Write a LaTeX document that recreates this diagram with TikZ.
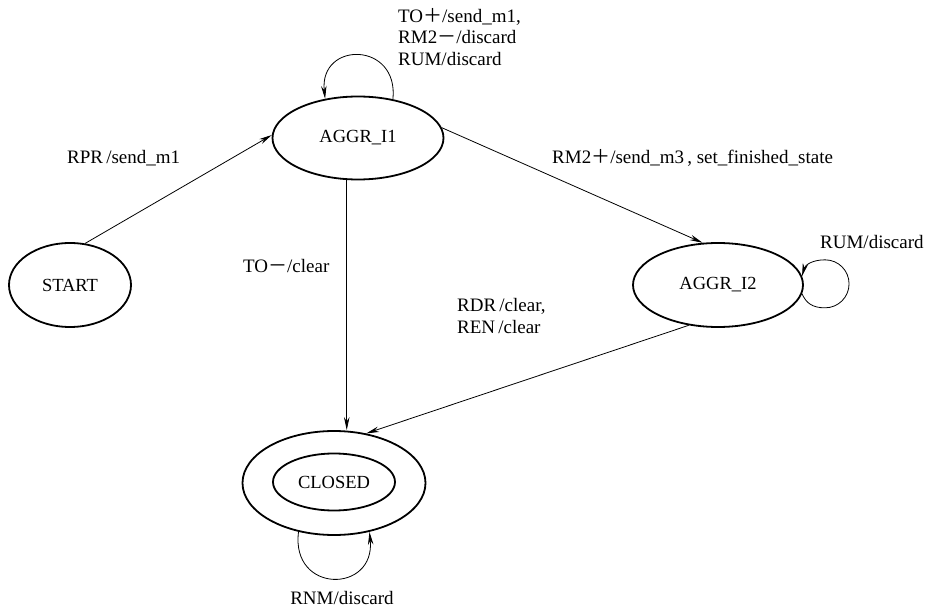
\documentclass[tikz,border=0pt]{standalone}
\usepackage{fontspec}
\setmainfont{Liberation Serif}
\newfontfamily\cjkfont{Noto Sans CJK SC}
\newcommand{\fwplus}{{\cjkfont ＋}}
\newcommand{\fwminus}{{\cjkfont －}}
\usetikzlibrary{shapes.geometric,arrows.meta}
\begin{document}
\begin{tikzpicture}[x=1pt,y=-1pt,
  state/.style={draw,ellipse,line width=1.8pt,inner sep=0pt,font=\rmfamily\fontsize{18.5}{20}\selectfont},
  lbl/.style={inner sep=0pt,font=\rmfamily\fontsize{19}{21.7}\selectfont,align=left},
  conn/.style={line width=0.8pt,-{Stealth[length=13pt,width=5.5pt]}}]
\useasboundingbox (0,0) rectangle (931,609);
% states
\node[state,minimum width=122pt,minimum height=84pt] (start) at (70,285) {START};
\node[state,minimum width=171pt,minimum height=83pt] (a1) at (358,138) {AGGR\_I1};
\node[state,minimum width=170pt,minimum height=84pt] (a2) at (718,285) {AGGR\_I2};
\node[state,minimum width=183pt,minimum height=104pt] (closed) at (334,483) {};
\node[state,minimum width=122pt,minimum height=57pt] (closedin) at (334,482) {CLOSED};
% transitions
\draw[conn] (start.70) -- (a1.178);
\draw[conn] (a1.7) -- (a2.110);
\draw[conn] (a1.255) -- (a1.255 |- closed.north);
\draw[conn] (a2.234) -- (closed.57);
\draw[conn] (a1.48) .. controls +(6,-58) and +(-6,-58) .. (a1.130);
\draw[conn] (a2.-6) .. controls +(4,9) and +(-13,0) .. ++(23,14)
  .. controls +(13.3,0) and +(0,13.3) .. ++(24,-24)
  .. controls +(0,-13.3) and +(13.3,0) .. ++(-24,-24)
  .. controls +(-13,0) and +(3,-11) .. (a2.6);
\draw[conn] (closed.234) .. controls +(-8,62) and +(6,62) .. (closed.306);
% labels
\node[lbl,anchor=west] (l1) at (398,37) {TO\fwplus/send\_m1,\\RM2\fwminus/discard\\RUM/discard};
\node[lbl,anchor=west] (l2) at (67,158) {RPR\,/send\_m1};
\node[lbl,anchor=west] (l3) at (243,266) {TO\fwminus/clear};
\node[lbl,anchor=west] (l4) at (552,158) {RM2\fwplus/send\_m3\,, set\_finished\_state};
\node[lbl,anchor=west] (l5) at (820,242) {RUM/discard};
\node[lbl,anchor=west] (l6) at (457,316) {RDR\,/clear,\\REN\,/clear};
\node[lbl] (l7) at (342,598) {RNM/discard};
\end{tikzpicture}
\end{document}
